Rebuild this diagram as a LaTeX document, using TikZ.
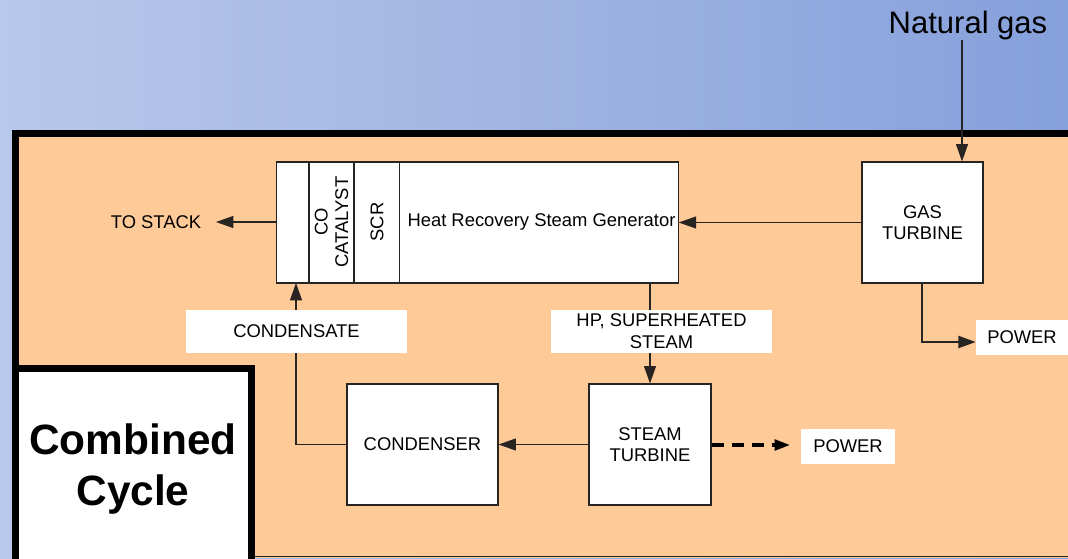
\documentclass[tikz,border=0pt]{standalone}
\usepackage{fontspec}
\setmainfont{Liberation Sans}
\usetikzlibrary{arrows.meta}
\definecolor{panel}{RGB}{254,202,152}
\definecolor{skyL}{RGB}{184,200,234}
\definecolor{skyR}{RGB}{134,160,219}
\definecolor{ln}{RGB}{40,36,34}
\tikzset{
  every node/.style={font=\fontsize{13.8}{16.2}\selectfont, text=black},
  box/.style={draw=ln, line width=0.9pt, fill=white, inner sep=0pt},
  lbl/.style={fill=white, inner sep=0pt, align=center},
  conn/.style={draw=ln, line width=0.8pt},
  tip/.style={-{Triangle[length=13pt,width=9pt]}},
}
\begin{document}
\begin{tikzpicture}[x=0.75pt,y=-0.75pt]
\useasboundingbox (0,0) rectangle (1068,558);
% sky
\shade[left color=skyL, right color=skyR] (0,0) rectangle (1068,558);
% panel
\fill[panel] (12,130) rectangle (1068,558);
\draw[black, line width=5.6pt] (15.75,575) -- (15.75,133.75) -- (1080,133.75);
\draw[ln, line width=1pt] (12,556.5) -- (1068,556.5);
% combined cycle box
\draw[black, line width=5.6pt, fill=white] (15.75,600) -- (15.75,368.75) -- (251.25,368.75) -- (251.25,600);
\node[font=\fontsize{31.8}{38.5}\selectfont\bfseries, align=center] (cc) at (133,469) {Combined\\Cycle};

% main boxes
\node[box, minimum width=301pt, minimum height=90.75pt] (hrsg) at (477.5,222.5) {};
\draw[ln, line width=0.9pt] (309,162) -- (309,283) (354,162) -- (354,283) (399.5,162) -- (399.5,283);
\node[rotate=90, align=center, font=\fontsize{13.8}{15.5}\selectfont] (co) at (331.5,222) {CO\\CATALYST};
\node[rotate=90] (scr) at (377,222) {SCR};
\node (hrsgtxt) at (541.5,222) {Heat Recovery Steam Generator};

\node[box, minimum width=90.75pt, minimum height=90.75pt, align=center] (gt) at (922.5,222.5) {GAS\\TURBINE};
\node[box, minimum width=91.5pt, minimum height=90.75pt, align=center] (st) at (650,444.5) {STEAM\\TURBINE};
\node[box, minimum width=113.25pt, minimum height=90.75pt] (cond) at (422.5,444.5) {CONDENSER};

% free labels
\node[font=\fontsize{23.25}{28}\selectfont] (ng) at (968,25) {Natural gas};
\node (stack) at (156,222) {TO STACK};

% connectors
\coordinate (ngend) at (962,40);
\coordinate (stackend) at (216,222);
\draw[conn, tip] (ngend) -- (ngend |- gt.north);
\draw[conn, tip] (gt.west) -- (hrsg.east |- gt.west);
\draw[conn, tip] (hrsg.west |- stack) -- (stackend);
\draw[conn, tip] (650,283) -- (st.north);
\draw[conn, tip] (st.west) -- (cond.east);
\coordinate (cbend) at (296,444.5);
\draw[conn, tip] (cond.west) -- (cbend) -- (296,283);

% power outputs
\node[lbl, minimum width=69pt, minimum height=26.25pt] (pw1) at (1022,337.5) {POWER};
\node[lbl, minimum width=70.5pt, minimum height=26.25pt] (pw2) at (848,446.5) {POWER};
\coordinate (gtc) at (922,342);
\draw[ln, line width=1.6pt, -{Triangle[length=13pt,width=9pt]}] (922,283) -- (gtc) -- (pw1.west |- gtc);
\coordinate (pw2end) at (790,445);
\draw[black, line width=2.4pt, dash pattern=on 9pt off 6pt, -{Triangle[length=11.5pt,width=8pt]}] (st.east |- pw2end) -- (pw2end);

% labels on connectors
\node[lbl, minimum width=165.75pt, minimum height=32.25pt, font=\fontsize{13.8}{16.5}\selectfont] (hp) at (661.5,331.5) {HP, SUPERHEATED\\STEAM};
\node[lbl, minimum width=165.75pt, minimum height=32.25pt] (cnd) at (296.5,331.5) {CONDENSATE};
\end{tikzpicture}
\end{document}
